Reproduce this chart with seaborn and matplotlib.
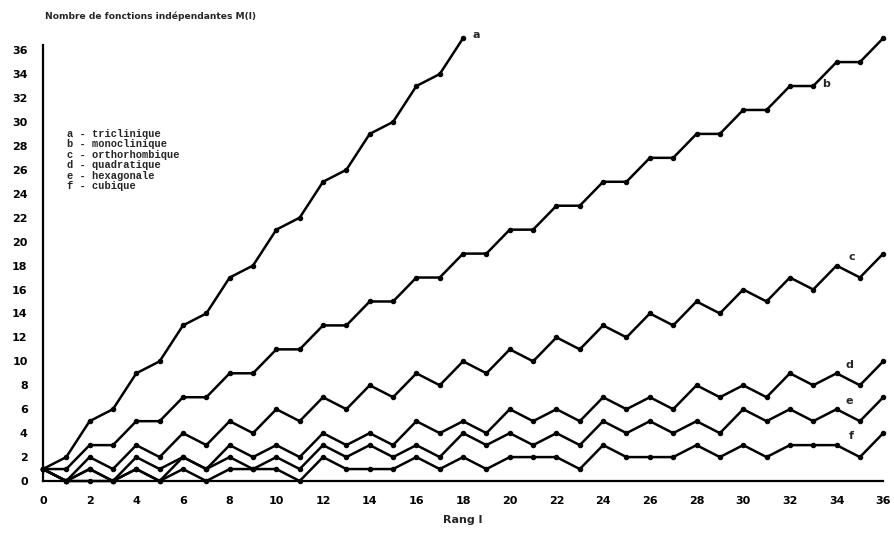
import pandas as pd
import matplotlib
matplotlib.use("Agg")
import matplotlib.pyplot as plt
import seaborn as sns

# Rang l et nombre de fonctions indépendantes M(l)
rang = list(range(0, 37))
rang_a = list(range(0, 19))

m_a = [1, 2, 5, 6, 9, 10, 13, 14, 17, 18, 21, 22, 25, 26, 29, 30, 33, 34, 37]
m_b = [1, 1, 3, 3, 5, 5, 7, 7, 9, 9, 11, 11, 13, 13, 15, 15, 17, 17, 19,
       19, 21, 21, 23, 23, 25, 25, 27, 27, 29, 29, 31, 31, 33, 33, 35, 35, 37]
m_c = [1, 0, 2, 1, 3, 2, 4, 3, 5, 4, 6, 5, 7, 6, 8, 7, 9, 8, 10,
       9, 11, 10, 12, 11, 13, 12, 14, 13, 15, 14, 16, 15, 17, 16, 18, 17, 19]
m_d = [1, 0, 1, 0, 2, 1, 2, 1, 3, 2, 3, 2, 4, 3, 4, 3, 5, 4, 5,
       4, 6, 5, 6, 5, 7, 6, 7, 6, 8, 7, 8, 7, 9, 8, 9, 8, 10]
m_e = [1, 0, 1, 0, 1, 0, 2, 1, 2, 1, 2, 1, 3, 2, 3, 2, 3, 2, 4,
       3, 4, 3, 4, 3, 5, 4, 5, 4, 5, 4, 6, 5, 6, 5, 6, 5, 7]
m_f = [1, 0, 0, 0, 1, 0, 1, 0, 1, 1, 1, 0, 2, 1, 1, 1, 2, 1, 2,
       1, 2, 2, 2, 1, 3, 2, 2, 2, 3, 2, 3, 2, 3, 3, 3, 2, 4]

systemes = ["a", "b", "c", "d", "e", "f"]
noms = ["triclinique", "monoclinique", "orthorhombique",
        "quadratique", "hexagonale", "cubique"]

# étiquettes posées à côté des courbes (l, M)
etiq_l = [18.4, 33.4, 34.5, 34.4, 34.4, 34.5]
etiq_m = [37.3, 33.2, 18.7, 9.7, 6.7, 3.75]

frames = []
for s, xs, ys in zip(systemes, [rang_a, rang, rang, rang, rang, rang],
                     [m_a, m_b, m_c, m_d, m_e, m_f]):
    frames.append(pd.DataFrame({"l": xs, "M": ys, "systeme": s}))
data = pd.concat(frames, ignore_index=True)

sns.set_theme(style="white")
plt.rcParams["font.family"] = ["DejaVu Sans"]

fig = plt.figure(figsize=(8.94, 5.46), dpi=100)
ax = fig.add_axes([0.048, 0.119, 0.940, 0.798])

sns.lineplot(data=data, x="l", y="M", units="systeme", estimator=None,
             color="black", linewidth=1.8, marker="o", markersize=3.2,
             markeredgecolor="black", ax=ax, clip_on=False)

ax.set_xlim(0, 36)
ax.set_ylim(0, 36.4)
ax.set_xticks(range(0, 37, 2))
ax.set_yticks(range(0, 37, 2))
ax.tick_params(axis="both", direction="inout", length=8, width=1.2,
               labelsize=8, colors="black", pad=7)
for lab in ax.get_xticklabels() + ax.get_yticklabels():
    lab.set_fontweight("bold")
ax.set_xlabel("Rang l", fontsize=8, fontweight="bold", labelpad=6)
ax.set_ylabel("")
sns.despine(ax=ax)
for sp in ["left", "bottom"]:
    ax.spines[sp].set_color("black")
    ax.spines[sp].set_linewidth(1.6)

for s, lx, ly in zip(systemes, etiq_l, etiq_m):
    ax.text(lx, ly, s, fontsize=8, fontweight="bold", ha="left",
            va="center", clip_on=False)

# légende en caractères machine
leg_y = 1 - 134 / 546
for s, n in zip(systemes, noms):
    fig.text(0.075, leg_y, f"{s} - {n}", fontsize=7.5, fontweight="bold",
             family=["Liberation Mono", "DejaVu Sans Mono"], va="center")
    leg_y -= 0.0192

fig.text(0.05, 1 - 16 / 546, "Nombre de fonctions indépendantes M(l)",
         fontsize=6.6, fontweight="bold", va="center")

fig.savefig("out.png", dpi=100)
